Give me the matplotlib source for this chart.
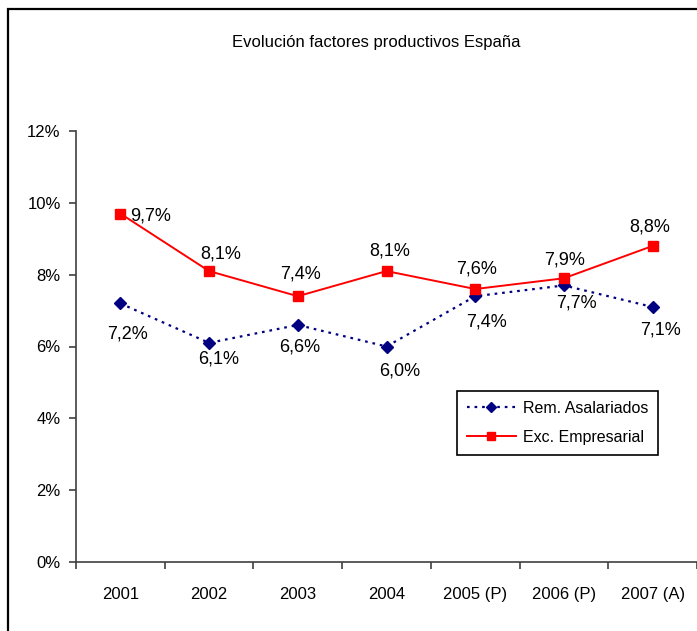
import matplotlib
matplotlib.use("Agg")
import matplotlib.pyplot as plt
from matplotlib.patches import Rectangle
from matplotlib.ticker import FixedLocator, FuncFormatter

# Series data
years = ["2001", "2002", "2003", "2004", "2005 (P)", "2006 (P)", "2007 (A)"]
rem_asalariados = [7.2, 6.1, 6.6, 6.0, 7.4, 7.7, 7.1]
exc_empresarial = [9.7, 8.1, 7.4, 8.1, 7.6, 7.9, 8.8]
y_ticks = [0, 2, 4, 6, 8, 10, 12]

# Label offsets in pixels (dx, dy) relative to each marker
exc_offsets = [(30, -2), (12, 17), (3, 22), (3, 20), (1, 20), (1, 18), (-3, 19)]
rem_offsets = [(7, -31), (10, -16), (2, -22), (13, -25), (11, -26), (13, -18), (8, -23)]

plt.rcParams["font.family"] = ["Liberation Sans", "DejaVu Sans"]

W, H = 697, 631
fig = plt.figure(figsize=(W / 100, H / 100), dpi=100)
fig.patch.set_facecolor("white")

# Outer chart frame
fig.patches.append(Rectangle((8 / W, -0.2), 1.5, 1 - 9 / H + 0.2,
                             transform=fig.transFigure, fill=False,
                             edgecolor="black", linewidth=1.6, zorder=0))

ax = fig.add_axes([76 / W, 1 - 562 / H, 1 - 76 / W, (562 - 131) / H])
x = list(range(len(years)))

ax.plot(x, rem_asalariados, color="#000080", linestyle=(0, (1.2, 2.2)),
        linewidth=1.6, marker="D", markersize=6, label="Rem. Asalariados",
        zorder=3)
ax.plot(x, exc_empresarial, color="#FF0000", linestyle="-", linewidth=1.4,
        marker="s", markersize=6.5, label="Exc. Empresarial", zorder=4)

lab_fs = 13
for xi, v, (dx, dy) in zip(x, exc_empresarial, exc_offsets):
    ax.annotate(f"{v:.1f}%".replace(".", ","), (xi, v), xytext=(dx, dy),
                textcoords="offset pixels", ha="center", va="center",
                fontsize=lab_fs, color="black")
for xi, v, (dx, dy) in zip(x, rem_asalariados, rem_offsets):
    ax.annotate(f"{v:.1f}%".replace(".", ","), (xi, v), xytext=(dx, dy),
                textcoords="offset pixels", ha="center", va="center",
                fontsize=lab_fs, color="black")

ax.set_xlim(-0.5, len(years) - 0.5)
ax.set_ylim(0, 12)

for s in ["top", "right"]:
    ax.spines[s].set_visible(False)
for s in ["left", "bottom"]:
    ax.spines[s].set_color("#404040")
    ax.spines[s].set_linewidth(1.2)

ax.yaxis.set_major_locator(FixedLocator(y_ticks))
ax.yaxis.set_major_formatter(FuncFormatter(lambda v, p: f"{v:.0f}%"))
ax.tick_params(axis="y", direction="out", length=5, width=1.2,
               color="#404040", labelsize=12, pad=6)

# Category boundaries as ticks, category names centred between them
ax.xaxis.set_major_locator(FixedLocator([i - 0.5 for i in range(len(years) + 1)]))
ax.xaxis.set_major_formatter(FuncFormatter(lambda v, p: ""))
ax.xaxis.set_minor_locator(FixedLocator(x))
ax.set_xticks(x, years, minor=True)
ax.tick_params(axis="x", which="major", direction="out", length=5, width=1.2,
               color="#404040")
ax.tick_params(axis="x", which="minor", length=0, labelsize=12, pad=18)

fig.text(376 / W, 1 - 42 / H, "Evolución factores productivos España",
         ha="center", va="center", fontsize=12)

leg = ax.legend(loc="upper left", bbox_to_anchor=(457 / W, 1 - 391 / H),
                bbox_transform=fig.transFigure, borderaxespad=0,
                fancybox=False, framealpha=1, edgecolor="black",
                fontsize=11.5, handlelength=3.1, handletextpad=0.45,
                labelspacing=0.9, borderpad=0.6, markerscale=0.9)
leg.get_frame().set_linewidth(1.2)

fig.savefig("out.png", dpi=100, facecolor="white")
